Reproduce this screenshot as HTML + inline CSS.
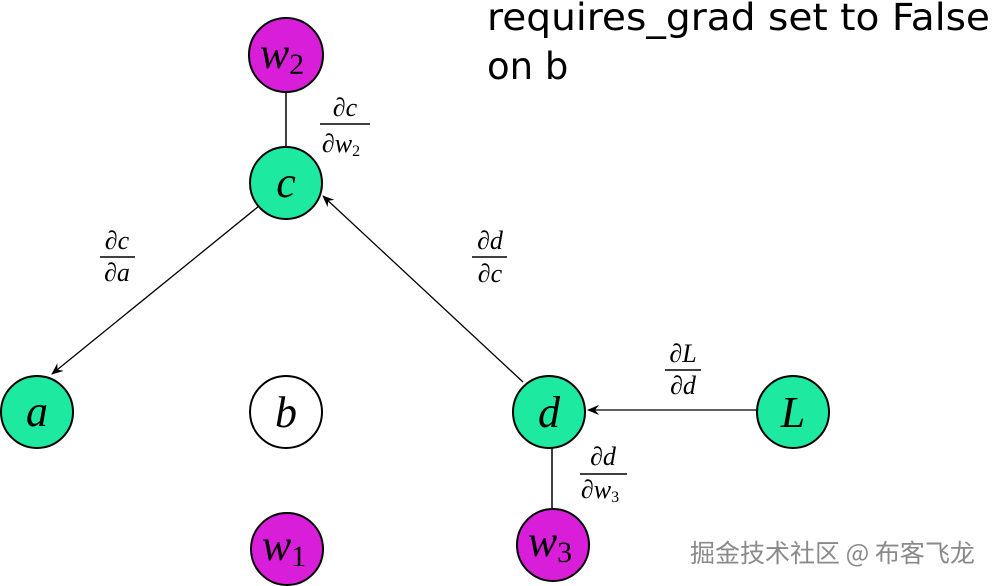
<!DOCTYPE html>
<html><head><meta charset="utf-8"><style>
html,body{margin:0;padding:0;background:#fff;}
svg{display:block;}
.n{font-family:"Liberation Serif",serif;font-style:italic;font-size:44px;text-anchor:middle;}
.f{font-family:"Liberation Serif",serif;font-style:italic;font-size:26px;text-anchor:middle;}
.s{font-size:16px;font-style:normal;}
</style></head><body>
<svg width="994" height="586" viewBox="0 0 994 586" xmlns="http://www.w3.org/2000/svg">
<defs><marker id="ar" markerWidth="12" markerHeight="10" refX="11" refY="5" orient="auto" markerUnits="userSpaceOnUse"><path d="M0,0 L12,5 L0,10 L4,5 Z" fill="#000"/></marker></defs>
<text x="487" y="30" font-family="DejaVu Sans, sans-serif" font-size="37" textLength="503" lengthAdjust="spacingAndGlyphs">requires_grad set to False</text>
<text x="487" y="79" font-family="DejaVu Sans, sans-serif" font-size="37">on b</text>
<line x1="286" y1="92" x2="286" y2="147" stroke="#000" stroke-width="1.5"/>
<line x1="552" y1="448" x2="552" y2="508" stroke="#000" stroke-width="1.5"/>
<line x1="259" y1="206" x2="52" y2="374" stroke="#000" stroke-width="1.3" marker-end="url(#ar)"/>
<line x1="523" y1="382" x2="323" y2="196" stroke="#000" stroke-width="1.3" marker-end="url(#ar)"/>
<line x1="756" y1="410" x2="588" y2="410" stroke="#000" stroke-width="1.3" marker-end="url(#ar)"/>
<g stroke="#000" stroke-width="2">
<circle cx="286" cy="55" r="37" fill="#d81ed8"/>
<circle cx="286" cy="183" r="36" fill="#1de9a0"/>
<circle cx="37" cy="412" r="36" fill="#1de9a0"/>
<circle cx="286" cy="412" r="36" fill="#fff"/>
<circle cx="549" cy="412" r="36" fill="#1de9a0"/>
<circle cx="793" cy="412" r="36" fill="#1de9a0"/>
<circle cx="287" cy="549" r="36" fill="#d81ed8"/>
<circle cx="553" cy="545" r="36" fill="#d81ed8"/>
</g>
<text class="n" x="282" y="68">w<tspan font-size="30" font-style="normal" dy="6">2</tspan></text>
<text class="n" x="286" y="197">c</text>
<text class="n" x="37" y="426">a</text>
<text class="n" x="286" y="427">b</text>
<text class="n" x="549" y="427">d</text>
<text class="n" x="793" y="427">L</text>
<text class="n" x="284" y="560">w<tspan font-size="30" font-style="normal" dy="6">1</tspan></text>
<text class="n" x="550" y="556">w<tspan font-size="30" font-style="normal" dy="6">3</tspan></text>
<g stroke="#000" stroke-width="1.5">
<line x1="320" y1="124" x2="370" y2="124"/>
<line x1="100" y1="257" x2="135" y2="257"/>
<line x1="472" y1="257" x2="507" y2="257"/>
<line x1="665" y1="370" x2="701" y2="370"/>
<line x1="580" y1="474" x2="627" y2="474"/>
</g>
<text class="f" x="345" y="116">∂c</text>
<text class="f" x="341" y="152">∂w<tspan class="s" dy="4">2</tspan></text>
<text class="f" x="117" y="249">∂c</text>
<text class="f" x="117" y="281">∂a</text>
<text class="f" x="490" y="249">∂d</text>
<text class="f" x="490" y="282">∂c</text>
<text class="f" x="683" y="362">∂L</text>
<text class="f" x="683" y="394">∂d</text>
<text class="f" x="603" y="465">∂d</text>
<text class="f" x="600" y="498">∂w<tspan class="s" dy="4">3</tspan></text>
<text x="690" y="562" font-family="Noto Sans CJK SC, sans-serif" font-size="25" fill="#8a8a8a">掘金技术社区 @ 布客飞龙</text>
</svg>
</body></html>
